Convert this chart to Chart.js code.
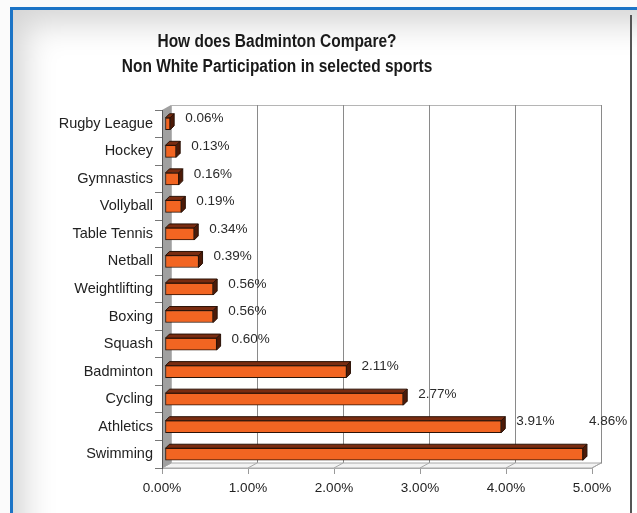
<!DOCTYPE html>
<html>
<head>
<meta charset="utf-8">
<script src="https://cdn.jsdelivr.net/npm/chart.js@4/dist/chart.umd.min.js"></script>
<style>
  html, body { margin: 0; padding: 0; background: #fbfbfb; }
  #wrap { position: relative; width: 637px; height: 513px; overflow: hidden; }
  #frame {
    position: absolute; left: 10px; top: 7px; right: -20px; bottom: -20px;
    border-top: 3px solid #1c74c6; border-left: 3px solid #1c74c6;
    background: #fff;
    box-shadow: inset 30px 32px 32px -18px rgba(0,0,0,0.17);
  }
  #edge { position: absolute; left: 630px; top: 15px; width: 2px; bottom: 0; background: #555; }
  #chart { position: absolute; left: 0; top: 0; }
</style>
</head>
<body>
<div id="wrap">
  <div id="frame"></div>
  <div id="edge"></div>
  <canvas id="chart" width="637" height="513"></canvas>
</div>
<script>
var sports = ['Rugby League', 'Hockey', 'Gymnastics', 'Vollyball', 'Table Tennis', 'Netball',
  'Weightlifting', 'Boxing', 'Squash', 'Badminton', 'Cycling', 'Athletics', 'Swimming'];
var share = [0.06, 0.13, 0.16, 0.19, 0.34, 0.39, 0.56, 0.56, 0.60, 2.11, 2.77, 3.91, 4.86];
var titleLines = ['How does Badminton Compare?', 'Non White Participation in selected sports'];

// depth of the 3d box and of the bars
var WALL = { dx: 9, dy: -5 };
var BAR_D = 4;
var BAR_SHIFT = 3; // bars sit a little inside the box depth

var boxPlugin = {
  id: 'box3d',
  beforeDraw: function(chart) {
    var ctx = chart.ctx, a = chart.chartArea, xs = chart.scales.x;
    ctx.save();
    // back wall
    ctx.fillStyle = '#fff';
    ctx.fillRect(a.left + WALL.dx, a.top + WALL.dy, a.right - a.left, a.bottom - a.top);
    ctx.strokeStyle = '#b5b5b5';
    ctx.lineWidth = 1;
    ctx.strokeRect(a.left + WALL.dx + 0.5, a.top + WALL.dy + 0.5, a.right - a.left, a.bottom - a.top);
    // gridlines on the back wall
    ctx.strokeStyle = '#8a8a8a';
    for (var v = 1; v <= 5; v++) {
      var gx = Math.round(xs.getPixelForValue(v) + WALL.dx) + 0.5;
      ctx.beginPath();
      ctx.moveTo(gx, a.top + WALL.dy);
      ctx.lineTo(gx, a.bottom + WALL.dy);
      ctx.stroke();
    }
    // floor
    ctx.fillStyle = '#f3f3f3';
    ctx.beginPath();
    ctx.moveTo(a.left, a.bottom);
    ctx.lineTo(a.left + WALL.dx, a.bottom + WALL.dy);
    ctx.lineTo(a.right + WALL.dx, a.bottom + WALL.dy);
    ctx.lineTo(a.right, a.bottom);
    ctx.closePath();
    ctx.fill();
    ctx.strokeStyle = '#a8a8a8';
    ctx.stroke();
    for (var t = 0; t <= 5; t++) {
      var fx = xs.getPixelForValue(t);
      ctx.beginPath();
      ctx.moveTo(fx, a.bottom);
      ctx.lineTo(fx + WALL.dx, a.bottom + WALL.dy);
      ctx.stroke();
    }
    // left side wall
    ctx.fillStyle = '#a0a0a0';
    ctx.beginPath();
    ctx.moveTo(a.left, a.top);
    ctx.lineTo(a.left + WALL.dx, a.top + WALL.dy);
    ctx.lineTo(a.left + WALL.dx, a.bottom + WALL.dy);
    ctx.lineTo(a.left, a.bottom);
    ctx.closePath();
    ctx.fill();

    // two line title, slightly condensed
    ctx.fillStyle = '#1a1a1a';
    ctx.font = 'bold 18px "Liberation Sans", Arial, sans-serif';
    ctx.textAlign = 'center';
    ctx.textBaseline = 'alphabetic';
    var ty = [47, 72];
    titleLines.forEach(function(line, i) {
      ctx.save();
      ctx.translate(277, ty[i]);
      ctx.scale(0.86, 1);
      ctx.fillText(line, 0, 0);
      ctx.restore();
    });
    ctx.restore();
  },
  beforeDatasetsDraw: function(chart) {
    chart.ctx.save();
    chart.ctx.translate(BAR_SHIFT, 0);
  },
  afterDatasetsDraw: function(chart) {
    var ctx = chart.ctx, a = chart.chartArea;
    var bars = chart.getDatasetMeta(0).data;
    ctx.lineWidth = 1;
    ctx.strokeStyle = '#2a1207';
    bars.forEach(function(el, i) {
      var p = el.getProps(['x', 'y', 'base', 'height'], true);
      var x0 = p.base, x1 = p.x, y0 = p.y - p.height / 2, y1 = p.y + p.height / 2;
      // top face
      ctx.fillStyle = '#7a2c10';
      ctx.beginPath();
      ctx.moveTo(x0, y0);
      ctx.lineTo(x0 + BAR_D, y0 - BAR_D);
      ctx.lineTo(x1 + BAR_D, y0 - BAR_D);
      ctx.lineTo(x1, y0);
      ctx.closePath();
      ctx.fill();
      ctx.stroke();
      // right face
      ctx.fillStyle = '#4d1a07';
      ctx.beginPath();
      ctx.moveTo(x1, y0);
      ctx.lineTo(x1 + BAR_D, y0 - BAR_D);
      ctx.lineTo(x1 + BAR_D, y1 - BAR_D);
      ctx.lineTo(x1, y1);
      ctx.closePath();
      ctx.fill();
      ctx.stroke();
    });

    // value labels
    ctx.font = '13.5px "Liberation Sans", Arial, sans-serif';
    ctx.fillStyle = '#2a2a2a';
    ctx.textAlign = 'left';
    ctx.textBaseline = 'middle';
    var row = bars.length > 1 ? Math.abs(bars[1].y - bars[0].y) : 0;
    bars.forEach(function(el, i) {
      var txt = share[i].toFixed(2) + '%';
      var w = ctx.measureText(txt).width;
      var lx = el.x + 15, ly = el.y - 5;
      if (lx + w > a.right + WALL.dx) {
        // no room beside the bar: lift it up a row
        lx = Math.min(el.x + 6, chart.width - 9 - BAR_SHIFT - w);
        ly -= row;
      }
      ctx.fillText(txt, lx, ly);
    });
    ctx.restore();
  }
};

var ctx = document.getElementById('chart').getContext('2d');
var chart = new Chart(ctx, {
  type: 'bar',
  data: {
    labels: sports,
    datasets: [{
      data: share,
      backgroundColor: '#f26522',
      borderColor: '#2a1207',
      borderWidth: 1,
      borderSkipped: false,
      barThickness: 12
    }]
  },
  options: {
    indexAxis: 'y',
    responsive: false,
    animation: false,
    layout: { padding: { top: 110, right: 45, left: 0, bottom: 0 } },
    plugins: {
      legend: { display: false },
      title: { display: false },
      tooltip: { enabled: false }
    },
    scales: {
      x: {
        min: 0,
        max: 5,
        ticks: {
          stepSize: 1,
          color: '#222',
          padding: 6,
          font: { size: 13.5, family: '"Liberation Sans", Arial, sans-serif' },
          callback: function(v) { return v.toFixed(2) + '%'; }
        },
        grid: { drawOnChartArea: false, drawTicks: true, tickLength: 6, color: '#999' },
        border: { display: true, color: '#aaa' },
        afterFit: function(s) { s.height = 45; }
      },
      y: {
        ticks: {
          color: '#222',
          padding: 2,
          font: { size: 14.5, family: '"Liberation Sans", Arial, sans-serif' }
        },
        grid: { drawOnChartArea: false, drawTicks: true, tickLength: 7, offset: true, color: '#777' },
        border: { display: true, color: '#555' },
        afterFit: function(s) { s.width = 162; }
      }
    }
  },
  plugins: [boxPlugin]
});
</script>
</body>
</html>
